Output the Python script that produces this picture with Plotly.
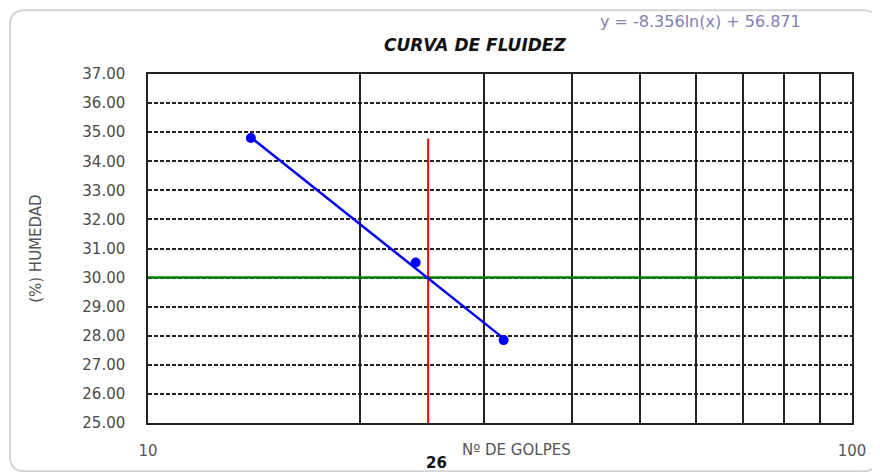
"""
Curva de fluidez: humidity vs number of blows (log x) with log trendline.
"""

import plotly.graph_objects as go

# Data
GOLPES = [14, 24, 32]
HUMEDAD = [34.80, 30.52, 27.85]

TREND_X = [14, 32]
TREND_Y = [34.82, 27.91]

LIMIT_X = [25, 25]
LIMIT_Y = [25.0, 34.78]

HUMEDAD_30_X = [10, 100]
HUMEDAD_30_Y = [30, 30]

Y_TICKS = [25, 26, 27, 28, 29, 30, 31, 32, 33, 34, 35, 36, 37]
X_TICKS = [10, 20, 30, 40, 50, 60, 70, 80, 90, 100]
X_TICK_TEXT = ["10", "", "", "", "", "", "", "", "", "100"]

EQUATION = "y = -8.356ln(x) + 56.871"
FONT = "DejaVu Sans, Arial, sans-serif"

fig = go.Figure()

# Horizontal line at 30 %
fig.add_trace(go.Scatter(x=HUMEDAD_30_X, y=HUMEDAD_30_Y, mode="lines",
                         line=dict(color="#008000", width=2.5), hoverinfo="skip"))

# Vertical line at 25 blows
fig.add_trace(go.Scatter(x=LIMIT_X, y=LIMIT_Y, mode="lines",
                         line=dict(color="#ff0000", width=2), hoverinfo="skip"))

# Trendline
fig.add_trace(go.Scatter(x=TREND_X, y=TREND_Y, mode="lines",
                         line=dict(color="#0000ff", width=2.5), hoverinfo="skip"))

# Measured points
fig.add_trace(go.Scatter(x=GOLPES, y=HUMEDAD, mode="markers",
                         marker=dict(color="#0000ff", size=10)))

# outer rounded frame around the whole chart
frame_path = ("M -0.175,1.183 L 1.016,1.183 Q 1.037,1.183 1.037,1.14 "
              "L 1.037,-0.095 Q 1.037,-0.138 1.016,-0.138 "
              "L -0.175,-0.138 Q -0.196,-0.138 -0.196,-0.095 "
              "L -0.196,1.14 Q -0.196,1.183 -0.175,1.183 Z")

# the page body adds an 8px offset, so the figure is 8px smaller
fig.update_layout(
    width=872,
    height=464,
    margin=dict(l=140, r=28, t=66, b=49),
    plot_bgcolor="white",
    paper_bgcolor="white",
    showlegend=False,
    font=dict(family=FONT, color="#555555"),
    shapes=[dict(type="path", xref="paper", yref="paper", path=frame_path,
                 line=dict(color="#d4d4d4", width=2), layer="below")],
    xaxis=dict(
        type="log",
        range=[1, 2],
        tickvals=X_TICKS,
        ticktext=X_TICK_TEXT,
        showgrid=True,
        gridcolor="#222222",
        gridwidth=1.5,
        showline=True,
        mirror=True,
        linecolor="#222222",
        linewidth=1.5,
        zeroline=False,
        ticks="",
        ticklabelstandoff=13,
        tickfont=dict(size=15, color="#555555"),
    ),
    yaxis=dict(
        range=[25, 37],
        tickvals=Y_TICKS,
        tickformat=".2f",
        showgrid=True,
        gridcolor="#222222",
        gridwidth=1.5,
        griddash="4px,2px",
        showline=True,
        mirror=True,
        linecolor="#222222",
        linewidth=1.5,
        zeroline=False,
        ticks="",
        ticklabelstandoff=18,
        tickfont=dict(size=15, color="#4a4a4a"),
    ),
    annotations=[
        dict(text="<b><i>CURVA DE FLUIDEZ</i></b>", xref="paper", yref="paper",
             x=0.465, y=1.083, xanchor="center", yanchor="middle",
             showarrow=False, font=dict(size=17, color="#111111")),
        dict(text=EQUATION, xref="paper", yref="paper", x=0.785, y=1.149,
             xanchor="center", yanchor="middle",
             showarrow=False, font=dict(size=16, color="#8080b4")),
        dict(text="(%) HUMEDAD", xref="paper", yref="paper", x=-0.16, y=0.5,
             xanchor="center", yanchor="middle",
             textangle=-90, showarrow=False, font=dict(size=15, color="#555555")),
        dict(text="Nº DE GOLPES", xref="paper", yref="paper", x=0.524, y=-0.077,
             xanchor="center", yanchor="middle",
             showarrow=False, font=dict(size=15, color="#555555")),
        dict(text="<b>26</b>", xref="paper", yref="paper", x=0.41, y=-0.115,
             xanchor="center", yanchor="middle",
             showarrow=False, font=dict(size=15, color="#111111")),
    ],
)

fig.write_html("out.html")
